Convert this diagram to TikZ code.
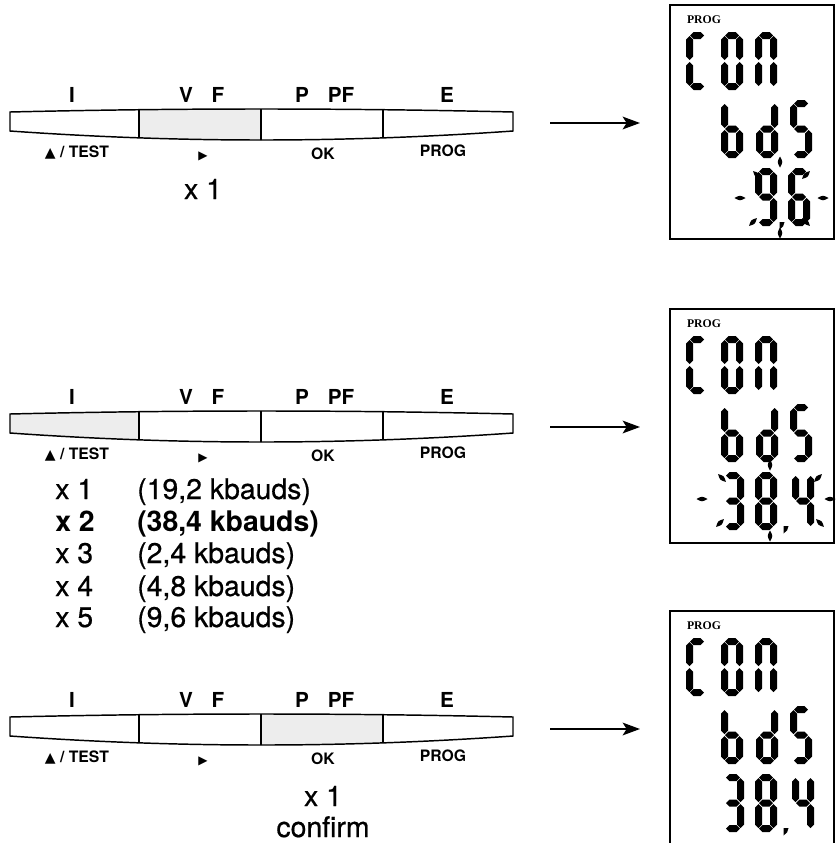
\documentclass[tikz,border=0pt]{standalone}
\usepackage{fontspec}
\setmainfont{TeX Gyre Heros}
\newfontfamily\medfont{TeX Gyre Heros}[FakeBold=0.6]
\newfontfamily\trifont{DejaVu Sans}
\newfontfamily\lcdfont{Liberation Serif}
\usetikzlibrary{arrows.meta}
\definecolor{keygray}{HTML}{EDEDED}

% segments of one lcd digit (a top, b/c right, d bottom, e/f left, g middle)
\tikzset{
  seg a/.pic={\fill (4,3.5)--(7.5,0)--(14.5,0)--(18,3.5)--(14.5,7)--(7.5,7)--cycle;},
  seg b/.pic={\fill (18.5,4)--(22,7.5)--(22,24.5)--(18.5,28)--(15,24.5)--(15,7.5)--cycle;},
  seg c/.pic={\fill (18.5,30)--(22,33.5)--(22,50.5)--(18.5,54)--(15,50.5)--(15,33.5)--cycle;},
  seg d/.pic={\fill (4,54.5)--(7.5,51)--(14.5,51)--(18,54.5)--(14.5,58)--(7.5,58)--cycle;},
  seg e/.pic={\fill (3.5,30)--(7,33.5)--(7,50.5)--(3.5,54)--(0,50.5)--(0,33.5)--cycle;},
  seg f/.pic={\fill (3.5,4)--(7,7.5)--(7,24.5)--(3.5,28)--(0,24.5)--(0,7.5)--cycle;},
  seg g/.pic={\fill (4,29)--(7.5,25.5)--(14.5,25.5)--(18,29)--(14.5,32.5)--(7.5,32.5)--cycle;},
  tick/.pic={\fill (-5.5,0) .. controls (0,-3) .. (5.5,0) .. controls (0,3) .. (-5.5,0);},
  comma/.pic={\fill (-2.5,-2) -- (2.5,-2) -- (1,2.5) -- (-2.5,5.5) -- cycle;}
}
\newcommand{\lcdchar}[3]{\foreach \s in {#3} {\pic at (#1,#2) {seg \s};}}

\begin{document}
\begin{tikzpicture}[x=0.75pt, y=-0.75pt,
				keyline/.style={line width=1.1pt},
				keylbl/.style={font=\bfseries\fontsize{15.5}{18}\selectfont, anchor=base, inner sep=0pt},
				funlbl/.style={font=\bfseries\fontsize{11.8}{14}\selectfont, anchor=base, inner sep=0pt},
				presslbl/.style={font=\medfont\fontsize{21.3}{25}\selectfont, anchor=base, inner sep=0pt},
				proglbl/.style={font=\lcdfont\bfseries\fontsize{8.8}{10}\selectfont, inner sep=0pt},
				lcdbox/.style={line width=1.1pt},
				flow/.style={line width=1.5pt, -{Stealth[length=13pt, width=9.5pt, inset=3pt]}}]
				\useasboundingbox (0,0) rectangle (836,843);
				
				\foreach \row/\yo/\xa/\xb/\yb in {1/0/139/261/0, 2/302/10/139/304, 3/605/261/383/606} {
					% keypad with the pressed key shaded
					\begin{scope}[shift={(0,\yo)}]
						\def\padpath{(10,112) .. controls (180,108) and (343,108) .. (513,112) -- (513,131) .. controls (343,143) and (180,143) .. (10,131) -- cycle}
						\begin{scope}
							\clip \padpath;
							\fill[keygray] (\xa,100) rectangle (\xb,150);
							\foreach \x in {139,261,383} \draw[keyline] (\x,100) -- (\x,150);
						\end{scope}
						\draw[keyline] \padpath;
						\node[keylbl](I\row) at (72,102) {I};
						\node[keylbl](V\row) at (186,102) {V};
						\node[keylbl](F\row) at (218,102) {F};
						\node[keylbl](P\row) at (302,102) {P};
						\node[keylbl](PF\row) at (341,102) {PF};
						\node[keylbl](E\row) at (447,102) {E};
						\node[funlbl](test\row) at (77,157.5) {{\trifont\fontsize{10.5}{12}\selectfont ▲}\ / TEST};
						\node[funlbl](right\row) at (203,159) {\trifont\fontsize{9}{11}\selectfont ▶};
						\node[funlbl](ok\row) at (323,159.5) {OK};
						\node[funlbl](prog\row) at (443,156.5) {PROG};
					\end{scope}
					% display
					\begin{scope}[shift={(0,\yb)}]
						\draw[lcdbox] (670,5) rectangle (834,239);
						\node[proglbl](lcdprog\row) at (704,20) {PROG};
						\lcdchar{686}{32}{a,f,e,d}
						\lcdchar{721}{32}{a,b,c,d,e,f}
						\lcdchar{755}{32}{a,b,c,e,f}
						\lcdchar{721}{100}{f,e,d,c,g}
						\lcdchar{756}{100}{b,c,d,e,g}
						\lcdchar{790}{100}{a,f,g,c,d}
						\coordinate (from\row) at (550,123);
						\coordinate (to\row) at (640,123);
						\draw[flow] (from\row) -- (to\row);
					\end{scope}
				}
				
				% third line of each display
				\lcdchar{755}{168}{a,b,c,d,f,g}
				\lcdchar{788}{168}{a,f,g,e,c,d}
				\pic at (782,224) {comma};
				\foreach \tx/\ty/\ta in {740/198/0, 823/198/0, 780/162/90, 780/233/90, 757/175/-45, 806/175/45, 753/222/45, 806/222/-45}
					\pic[rotate=\ta] at (\tx,\ty) {tick};
				
				\lcdchar{722}{472}{a,b,g,c,d}
				\lcdchar{755}{472}{a,b,c,d,e,f,g}
				\lcdchar{792}{472}{f,g,b,c}
				\pic at (786,528) {comma};
				\foreach \tx/\ty/\ta in {702/499/0, 830/499/0, 770/465/90, 770/536/90, 722/478/-45, 818/478/45, 720/523/45, 820/523/-45}
					\pic[rotate=\ta] at (\tx,\ty) {tick};
				
				\lcdchar{722}{774}{a,b,g,c,d}
				\lcdchar{755}{774}{a,b,c,d,e,f,g}
				\lcdchar{792}{774}{f,g,b,c}
				\pic at (786,830) {comma};
				
				% how many presses
				\node[presslbl](press1) at (203,199) {x 1};
				
				\node[presslbl, anchor=base west](n1) at (55,499) {x 1};
				\node[presslbl, anchor=base west](r1) at (137,499) {(19,2 kbauds)};
				\node[presslbl, anchor=base west, font=\bfseries\fontsize{21.3}{25}\selectfont](n2) at (55,531) {x 2};
				\node[presslbl, anchor=base west, font=\bfseries\fontsize{21.3}{25}\selectfont](r2) at (137,531) {(38,4 kbauds)};
				\node[presslbl, anchor=base west](n3) at (55,563) {x 3};
				\node[presslbl, anchor=base west](r3) at (137,563) {(2,4 kbauds)};
				\node[presslbl, anchor=base west](n4) at (55,596) {x 4};
				\node[presslbl, anchor=base west](r4) at (137,596) {(4,8 kbauds)};
				\node[presslbl, anchor=base west](n5) at (55,627) {x 5};
				\node[presslbl, anchor=base west](r5) at (137,627) {(9,6 kbauds)};
				
				\node[presslbl](press3) at (323,806) {x 1};
				\node[presslbl](confirm3) at (323,837) {confirm};
			\end{tikzpicture}
\end{document}
